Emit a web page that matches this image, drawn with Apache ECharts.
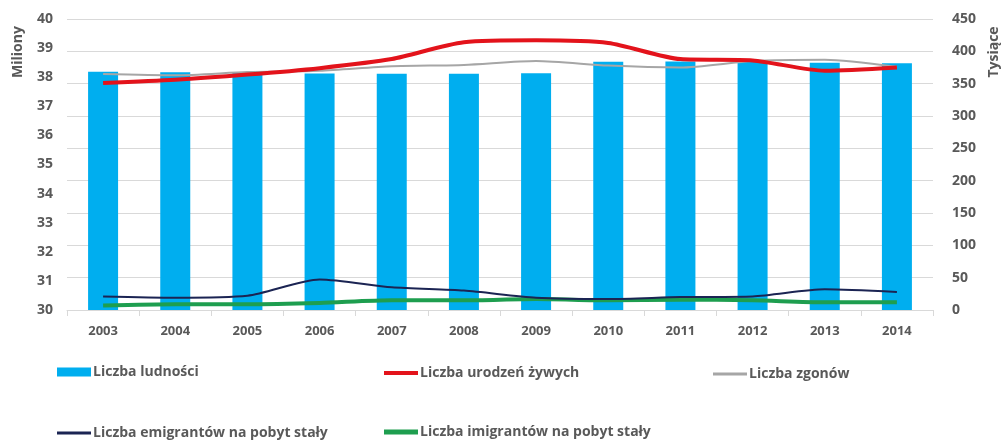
<!DOCTYPE html>
<html>
<head>
<meta charset="utf-8">
<style>
html, body { margin: 0; padding: 0; background: #fff; }
#main { width: 1002px; height: 444px; }
</style>
<script src="https://cdn.jsdelivr.net/npm/echarts@6/dist/echarts.min.js"></script>
</head>
<body>
<div id="main"></div>
<script>
var lata = ['2003', '2004', '2005', '2006', '2007', '2008', '2009', '2010', '2011', '2012', '2013', '2014'];
// mln
var ludnosc = [38.19, 38.17, 38.16, 38.13, 38.12, 38.12, 38.14, 38.53, 38.54, 38.53, 38.50, 38.48];
// tys.
var urodzenia = [351, 356, 364, 374, 388, 414, 417, 413, 388, 386, 370, 375];
var zgony = [365, 363, 368, 370, 377, 379, 385, 378, 375, 385, 387, 376];
var emigranci = [21, 19, 22, 47, 35, 30, 19, 17, 20, 21, 32, 28];
var imigranci = [7, 9, 9, 11, 15, 15, 17, 15, 16, 15, 12, 12];

var szary = '#595959';
var font = '"Open Sans", sans-serif';

var myChart = echarts.init(document.getElementById('main'));

function legenda(nazwa, left, top, h) {
    return {
        data: [nazwa],
        left: left,
        top: top,
        icon: 'rect',
        itemWidth: 34,
        itemHeight: h,
        padding: 0,
        textStyle: { color: szary, fontFamily: font, fontSize: 14, fontWeight: 'bold', padding: [0, 0, 0, -3] }
    };
}

var option = {
    animation: false,
    grid: { left: 67, right: 69, top: 19, bottom: 134 },
    legend: [
        legenda('Liczba ludności', 57, 365, 9),
        legenda('Liczba urodzeń żywych', 384, 366, 4),
        legenda('Liczba zgonów', 713, 367, 3),
        legenda('Liczba emigrantów na pobyt stały', 57, 426, 3),
        legenda('Liczba imigrantów na pobyt stały', 384, 425, 5)
    ],
    graphic: [
        {
            type: 'text', x: 18, y: 52, rotation: Math.PI / 2,
            style: { text: 'Miliony', fill: szary, font: 'bold 14px "Open Sans", sans-serif', textAlign: 'center', textVerticalAlign: 'middle' }
        },
        {
            type: 'text', x: 994, y: 52, rotation: Math.PI / 2,
            style: { text: 'Tysiące', fill: szary, font: 'bold 14px "Open Sans", sans-serif', textAlign: 'center', textVerticalAlign: 'middle' }
        }
    ],
    xAxis: {
        type: 'category',
        data: lata,
        axisLine: { lineStyle: { color: '#d9d9d9' } },
        axisTick: { show: true, length: 6, lineStyle: { color: '#d9d9d9' } },
        axisLabel: { color: szary, fontFamily: font, fontSize: 13, fontWeight: 'bold', margin: 15 }
    },
    yAxis: [
        {
            type: 'value',
            min: 30,
            max: 40,
            interval: 1,
            splitLine: { show: false },
            axisLine: { show: false },
            axisTick: { show: false },
            axisLabel: { color: szary, fontFamily: font, fontSize: 14, fontWeight: 'bold', margin: 14 }
        },
        {
            type: 'value',
            min: 0,
            max: 450,
            interval: 50,
            splitLine: { lineStyle: { color: '#d9d9d9' } },
            axisLine: { show: false },
            axisTick: { show: false },
            axisLabel: { color: szary, fontFamily: font, fontSize: 14, fontWeight: 'bold', margin: 19 }
        }
    ],
    series: [
        {
            name: 'Liczba ludności',
            type: 'bar',
            yAxisIndex: 0,
            barWidth: 30,
            data: ludnosc,
            itemStyle: { color: '#00aeef' }
        },
        {
            name: 'Liczba urodzeń żywych',
            type: 'line',
            yAxisIndex: 1,
            z: 4,
            smooth: 0.25,
            showSymbol: false,
            data: urodzenia,
            itemStyle: { color: '#e3131b' },
            lineStyle: { color: '#e3131b', width: 4 }
        },
        {
            name: 'Liczba zgonów',
            type: 'line',
            yAxisIndex: 1,
            z: 3,
            smooth: 0.25,
            showSymbol: false,
            data: zgony,
            itemStyle: { color: '#a6a6a6' },
            lineStyle: { color: '#a6a6a6', width: 2 }
        },
        {
            name: 'Liczba emigrantów na pobyt stały',
            type: 'line',
            yAxisIndex: 1,
            z: 5,
            smooth: 0.25,
            showSymbol: false,
            data: emigranci,
            itemStyle: { color: '#1b2453' },
            lineStyle: { color: '#1b2453', width: 2 }
        },
        {
            name: 'Liczba imigrantów na pobyt stały',
            type: 'line',
            yAxisIndex: 1,
            z: 4,
            smooth: 0.25,
            showSymbol: false,
            data: imigranci,
            itemStyle: { color: '#1e9e4f' },
            lineStyle: { color: '#1e9e4f', width: 4 }
        }
    ]
};
myChart.setOption(option);
</script>
</body>
</html>
